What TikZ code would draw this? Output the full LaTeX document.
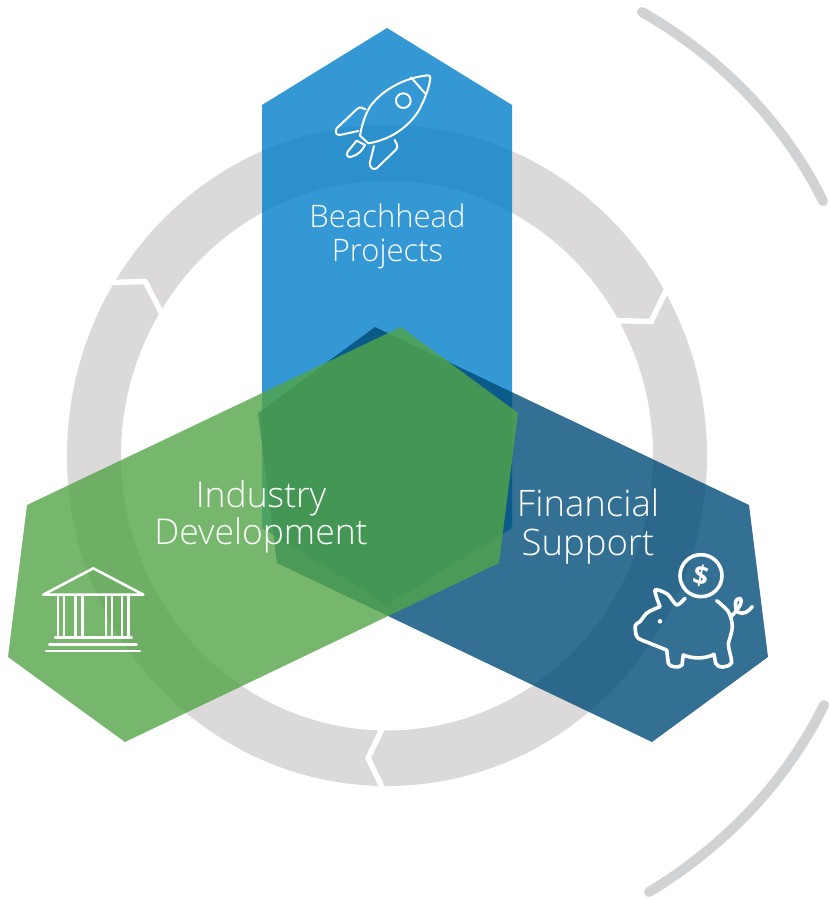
\documentclass[tikz,border=0pt]{standalone}
\usepackage{fontspec}
\setmainfont{Open Sans Light}
\newfontfamily\coinfont{Open Sans}[UprightFont=* Bold]
\definecolor{ringgray}{HTML}{DBD9DA}
\definecolor{arcgray}{HTML}{D0D2D3}
\definecolor{hexblue}{HTML}{007EC8}
\definecolor{hexnavy}{HTML}{004C78}
\definecolor{hexgreen}{HTML}{54A548}
\tikzset{
  hexfill/.style={fill=#1,fill opacity=.8,draw=none},
  gapline/.style={draw=white,line width=5.5pt,miter limit=10},
  outerarc/.style={draw=arcgray,line width=10pt,line cap=round},
  icon/.style={draw=white,line width=#1,line join=round,line cap=round},
  label/.style={text=white,align=center,inner sep=0pt}
}
\begin{document}
\begin{tikzpicture}[x=1pt,y=-1pt]
\useasboundingbox (0,0) rectangle (829,899);
% ring
\fill[ringgray,even odd rule] (387,455.5) ellipse [x radius=320,y radius=330.5]
  (387,455.5) ellipse [x radius=266,y radius=275];
\draw[gapline] (105,282.7) -- (145,281.5) -- (162,314);
\draw[gapline] (610,320.5) -- (651,321.5) -- (668,287);
\draw[gapline] (385,723) -- (368,758) -- (385,793);
% outer arcs
\draw[outerarc] (642,12) .. controls (722,58) and (785,124) .. (823,201);
\draw[outerarc] (824,705) .. controls (786,782) and (725,846) .. (649,892);
% hexagons
\path[hexfill=hexblue] (387,28) -- (512,105) -- (512,528) -- (387,605) -- (262,528) -- (262,105) -- cycle;
\path[hexfill=hexnavy] (375,327) -- (749,505) -- (768,657) -- (652,742) -- (277,563) -- (258,413) -- cycle;
\path[hexfill=hexgreen] (401,327) -- (518,413) -- (499,563) -- (125,742) -- (8,657) -- (27,505) -- cycle;
% labels
\node[label,font=\fontsize{31}{34}\selectfont] (beach) at (387.5,236.5) {Beachhead\\Projects};
\node[label,font=\fontsize{35.5}{37}\selectfont] (industry) at (261,517) {Industry\\Development};
\node[label,font=\fontsize{36.5}{39}\selectfont] (financial) at (588,527) {Financial\\Support};
% rocket
\begin{scope}[shift={(250,20)},x=.3333pt,y=-.3333pt]
\draw[icon=2pt] (534,166) .. controls (470,172) and (400,205) .. (360,260) .. controls (342,290) and (335,320) .. (330,347) -- (355,370) .. controls (420,360) and (480,320) .. (510,265) .. controls (525,235) and (537,205) .. (541,175) .. controls (541,169) and (539,166) .. (534,166) -- cycle;
\draw[icon=2pt] (483,172) -- (527,222);
\draw[icon=2pt] (460,242) circle [radius=22];
\draw[icon=2pt] (346,268) -- (335,263) .. controls (330,261) and (325,263) .. (320,268) -- (260,325) .. controls (254,335) and (258,346) .. (270,345) -- (325,333);
\draw[icon=2pt] (372,378) -- (359,430) .. controls (360,445) and (370,450) .. (380,445) -- (437,390) .. controls (444,382) and (444,378) .. (434,360);
\draw[icon=2pt] (320,362) -- (293,395) .. controls (287,408) and (295,413) .. (305,410) .. controls (325,405) and (338,390) .. (345,375) -- cycle;
\end{scope}
% bank
\begin{scope}[shift={(0,480)},x=.3333pt,y=-.3333pt]
\draw[icon=2.6pt] (130,344) -- (280,265) -- (430,344) -- cycle;
\foreach \a/\b in {174/192,226/248,318/336,366/386}
  \draw[icon=2.4pt] (\a,346) -- (\a,472) (\b,346) -- (\b,472);
\draw[icon=2.6pt] (165,473) -- (395,473);
\draw[icon=2.6pt] (148,493) -- (410,493);
\draw[icon=2.6pt] (138,513) -- (420,513);
\end{scope}
% piggy bank
\begin{scope}[shift={(560,480)},x=.3333pt,y=-.3333pt]
\draw[icon=3.6pt] (423,287) circle [radius=63];
\node[text=white,rotate=-12,inner sep=0pt,font=\fontsize{27}{27}\selectfont\coinfont] (coin) at (423,287) {\$};
\draw[icon=3.6pt] plot[smooth,tension=.45] coordinates {(375,355) (350,375) (322,342) (285,330) (300,380)};
\draw[icon=3.6pt] plot[smooth,tension=.5] coordinates {(300,380) (262,398) (240,425) (226,436) (232,472) (270,490) (320,510)};
\draw[icon=3.6pt] (320,510) -- (325,550) .. controls (328,562) and (360,565) .. (366,555) -- (370,525) .. controls (400,537) and (435,537) .. (462,523) -- (467,550) .. controls (472,565) and (505,565) .. (515,548) .. controls (515,530) and (505,510) .. (505,490);
\draw[icon=3.6pt] plot[smooth,tension=.5] coordinates {(505,490) (517,440) (505,395) (470,362)};
\draw[icon=3.6pt] (512,410) .. controls (530,395) and (552,365) .. (540,355) .. controls (525,352) and (520,385) .. (535,397) .. controls (550,405) and (565,395) .. (577,380);
\fill[white] (300,424) circle [radius=7];
\end{scope}
\end{tikzpicture}
\end{document}
